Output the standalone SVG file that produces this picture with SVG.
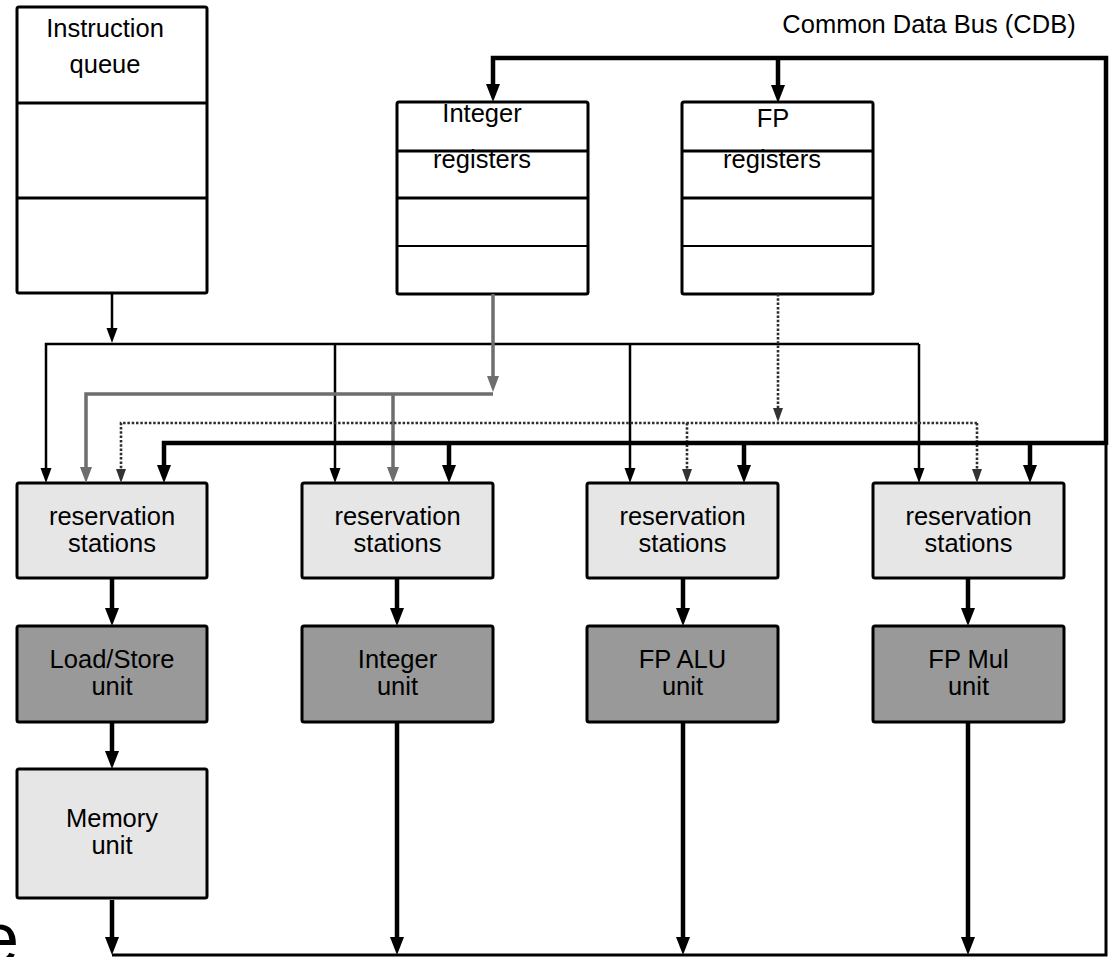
<svg xmlns="http://www.w3.org/2000/svg" width="1111" height="957" viewBox="0 0 1111 957">
  <style>
    text { font-family: "Liberation Sans", Arial, sans-serif; font-size: 25.5px; fill: #000; text-anchor: middle; }
    .box { stroke: #000; stroke-width: 3; }
    .reg { fill: #fff; }
    .rs { fill: #e6e6e6; }
    .fu { fill: #999999; }
    .div { stroke: #000; stroke-width: 3; }
    .div2 { stroke: #000; stroke-width: 2.2; }
    .thin { fill: none; stroke: #000; stroke-width: 2.5; }
    .thick { fill: none; stroke: #000; stroke-width: 4.5; }
    .grey { fill: none; stroke: #6e6e6e; stroke-width: 3.5; }
    .dot { fill: none; stroke: #2e2e2e; stroke-width: 2.6; stroke-dasharray: 2.5 1.8; }
  </style>
  <defs>
    <marker id="ah-thin" markerUnits="userSpaceOnUse" markerWidth="16" markerHeight="12" refX="0" refY="6" orient="auto" viewBox="0 0 16 12">
      <path d="M0,0.5 L15,6 L0,11.5 z" fill="#000"/>
    </marker>
    <marker id="ah-thick" markerUnits="userSpaceOnUse" markerWidth="19" markerHeight="15" refX="0" refY="7.5" orient="auto" viewBox="0 0 19 15">
      <path d="M0,0.5 L18,7.5 L0,14.5 z" fill="#000"/>
    </marker>
    <marker id="ah-grey" markerUnits="userSpaceOnUse" markerWidth="17" markerHeight="13" refX="0" refY="6.5" orient="auto" viewBox="0 0 17 13">
      <path d="M0,0.5 L16,6.5 L0,12.5 z" fill="#6e6e6e"/>
    </marker>
    <marker id="ah-dot" markerUnits="userSpaceOnUse" markerWidth="15" markerHeight="11" refX="0" refY="5.5" orient="auto" viewBox="0 0 15 11">
      <path d="M0,0.5 L14,5.5 L0,10.5 z" fill="#333"/>
    </marker>
  </defs>

  <rect width="1111" height="957" fill="#fff"/>

  <!-- bus label -->
  <text x="929" y="33">Common Data Bus (CDB)</text>

  <!-- clipped large letter at lower left edge -->
  <text x="-21" y="963" style="font-size:72px; text-anchor:start">e</text>

  <g id="instruction-queue">
    <rect class="box reg" x="17" y="7" width="190" height="286" rx="2"/>
    <line class="div" x1="17" y1="103" x2="207" y2="103"/>
    <line class="div" x1="17" y1="198" x2="207" y2="198"/>
    <text x="105" y="37">Instruction</text>
    <text x="105" y="73">queue</text>
  </g>

  <g id="integer-registers">
    <rect class="box reg" x="397" y="102" width="191" height="192" rx="2"/>
    <line class="div" x1="397" y1="151" x2="588" y2="151"/>
    <line class="div" x1="397" y1="198" x2="588" y2="198"/>
    <line class="div2" x1="397" y1="246" x2="588" y2="246"/>
    <text x="482" y="122">Integer</text>
    <text x="482" y="168">registers</text>
  </g>

  <g id="fp-registers">
    <rect class="box reg" x="682" y="102" width="191" height="192" rx="2"/>
    <line class="div" x1="682" y1="151" x2="873" y2="151"/>
    <line class="div" x1="682" y1="198" x2="873" y2="198"/>
    <line class="div2" x1="682" y1="246" x2="873" y2="246"/>
    <text x="773" y="127">FP</text>
    <text x="772" y="168">registers</text>
  </g>

  <g id="rs-loadstore">
    <rect class="box rs" x="17" y="483" width="190" height="95" rx="2"/>
    <text x="112" y="525">reservation</text>
    <text x="112" y="552">stations</text>
  </g>
  <g id="rs-integer">
    <rect class="box rs" x="302" y="483" width="191" height="95" rx="2"/>
    <text x="397.5" y="525">reservation</text>
    <text x="397.5" y="552">stations</text>
  </g>
  <g id="rs-fpalu">
    <rect class="box rs" x="587" y="483" width="191" height="95" rx="2"/>
    <text x="682.5" y="525">reservation</text>
    <text x="682.5" y="552">stations</text>
  </g>
  <g id="rs-fpmul">
    <rect class="box rs" x="873" y="483" width="191" height="95" rx="2"/>
    <text x="968.5" y="525">reservation</text>
    <text x="968.5" y="552">stations</text>
  </g>

  <g id="loadstore-unit">
    <rect class="box fu" x="17" y="626" width="190" height="96" rx="2"/>
    <text x="112" y="668">Load/Store</text>
    <text x="112" y="695">unit</text>
  </g>
  <g id="integer-unit">
    <rect class="box fu" x="302" y="626" width="191" height="96" rx="2"/>
    <text x="397.5" y="668">Integer</text>
    <text x="397.5" y="695">unit</text>
  </g>
  <g id="fpalu-unit">
    <rect class="box fu" x="587" y="626" width="191" height="96" rx="2"/>
    <text x="682.5" y="668">FP ALU</text>
    <text x="682.5" y="695">unit</text>
  </g>
  <g id="fpmul-unit">
    <rect class="box fu" x="873" y="626" width="191" height="96" rx="2"/>
    <text x="968.5" y="668">FP Mul</text>
    <text x="968.5" y="695">unit</text>
  </g>

  <g id="memory-unit">
    <rect class="box rs" x="17" y="769" width="190" height="129" rx="2"/>
    <text x="112" y="827">Memory</text>
    <text x="112" y="854">unit</text>
  </g>

  <g id="connectors">
    <!-- issue path from the instruction queue -->
    <path class="thin" d="M112,293 V328" marker-end="url(#ah-thin)"/>
    <path class="thin" d="M919,344 H46 V468" marker-end="url(#ah-thin)"/>
    <path class="thin" d="M335,344 V468" marker-end="url(#ah-thin)"/>
    <path class="thin" d="M630,344 V468" marker-end="url(#ah-thin)"/>
    <path class="thin" d="M919,344 V468" marker-end="url(#ah-thin)"/>

    <!-- integer register operands -->
    <path class="grey" d="M493,294 V376" marker-end="url(#ah-grey)"/>
    <path class="grey" d="M493,394 H86 V467" marker-end="url(#ah-grey)"/>
    <path class="grey" d="M393,394 V467" marker-end="url(#ah-grey)"/>

    <!-- FP register operands -->
    <path class="dot" d="M778,294 V408" marker-end="url(#ah-dot)"/>
    <path class="dot" d="M977,423 H121 V469" marker-end="url(#ah-dot)"/>
    <path class="dot" d="M687,423 V469" marker-end="url(#ah-dot)"/>
    <path class="dot" d="M977,423 V469" marker-end="url(#ah-dot)"/>

    <!-- common data bus -->
    <path class="thick" d="M1106,445 V58 H493 V84" marker-end="url(#ah-thick)"/>
    <path class="thick" d="M778,58 V85" marker-end="url(#ah-thick)"/>
    <path class="thick" d="M1106,443 H164 V465" marker-end="url(#ah-thick)"/>
    <path class="thick" d="M449,443 V465" marker-end="url(#ah-thick)"/>
    <path class="thick" d="M744,443 V465" marker-end="url(#ah-thick)"/>
    <path class="thick" d="M1030,443 V465" marker-end="url(#ah-thick)"/>
    <path fill="none" stroke="#000" stroke-width="3" d="M1106,443 V955 H112"/>

    <!-- reservation stations to units -->
    <path class="thick" d="M112,578 V608" marker-end="url(#ah-thick)"/>
    <path class="thick" d="M397,578 V608" marker-end="url(#ah-thick)"/>
    <path class="thick" d="M683,578 V608" marker-end="url(#ah-thick)"/>
    <path class="thick" d="M968,578 V608" marker-end="url(#ah-thick)"/>
    <path class="thick" d="M112,722 V751" marker-end="url(#ah-thick)"/>

    <!-- results onto the bus -->
    <path class="thick" d="M112,900 V937" marker-end="url(#ah-thick)"/>
    <path class="thick" d="M397,722 V937" marker-end="url(#ah-thick)"/>
    <path class="thick" d="M683,722 V937" marker-end="url(#ah-thick)"/>
    <path class="thick" d="M968,722 V937" marker-end="url(#ah-thick)"/>
  </g>
</svg>
